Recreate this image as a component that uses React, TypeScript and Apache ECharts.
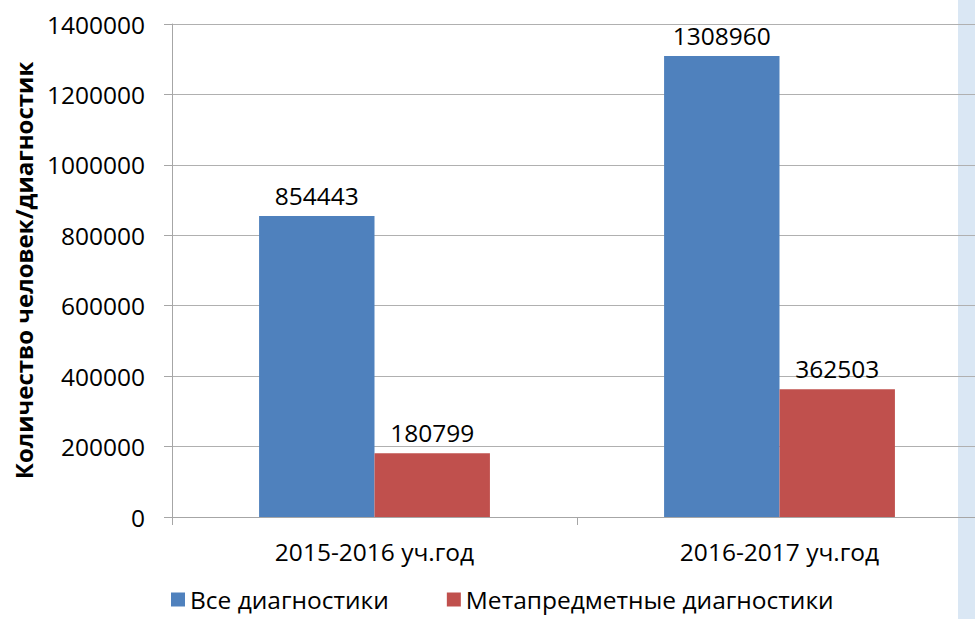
import React, { useEffect, useRef } from "react";
import * as echarts from "echarts";

const categories = ["2015-2016 уч.год", "2016-2017 уч.год"];
const seriesNames = ["Все диагностики", "Метапредметные диагностики"];
const allDiagnostics = [854443, 1308960];
const metaDiagnostics = [180799, 362503];
const yTicks = { min: 0, max: 1400000, interval: 200000 };

const FONT = "Open Sans";
const FS = 24.5;

export default function App() {
  const ref = useRef<HTMLDivElement>(null);
  useEffect(() => {
    if (!ref.current) return;
    const chart = echarts.init(ref.current, undefined, { renderer: "svg" });
    chart.setOption({
      animation: false,
      backgroundColor: "#ffffff",
      textStyle: { fontFamily: FONT },
      graphic: [
        {
          type: "rect",
          z: -10,
          silent: true,
          shape: { x: 958, y: 0, width: 20, height: 619 },
          style: { fill: "#dae7f4" },
        },
      ],
      grid: {
        left: 172,
        width: 810,
        top: 24,
        bottom: 102,
        containLabel: false,
        outerBoundsMode: "none",
      },
      legend: {
        bottom: 2,
        left: 166,
        itemWidth: 14,
        itemHeight: 14,
        itemGap: 58,
        icon: "rect",
        textStyle: { fontSize: FS, color: "#000", fontFamily: FONT },
        data: seriesNames,
      },
      xAxis: {
        type: "category",
        data: categories,
        axisLine: { lineStyle: { color: "#a6a6a6", width: 1 } },
        axisTick: { show: true, length: 8, lineStyle: { color: "#a6a6a6" } },
        axisLabel: { fontSize: FS, color: "#000", margin: 22, fontFamily: FONT },
      },
      yAxis: {
        type: "value",
        min: yTicks.min,
        max: yTicks.max,
        interval: yTicks.interval,
        name: "Количество человек/диагностик",
        nameLocation: "middle",
        nameGap: 137,
        nameTextStyle: { fontSize: 24, fontWeight: "bold", color: "#000", fontFamily: FONT },
        axisLine: { show: true, lineStyle: { color: "#a6a6a6" } },
        axisTick: { show: true, length: 8, lineStyle: { color: "#a6a6a6" } },
        splitLine: { show: true, lineStyle: { color: "#b0b0b0", width: 1 } },
        axisLabel: {
          fontSize: FS,
          color: "#000",
          margin: 27,
          fontFamily: FONT,
          formatter: (v: number) => String(v),
        },
      },
      series: [
        {
          name: seriesNames[0],
          type: "bar",
          data: allDiagnostics,
          barGap: "0%",
          barCategoryGap: "43%",
          itemStyle: { color: "#4f81bd" },
          label: { show: true, position: "top", distance: 8, fontSize: FS, color: "#000", fontFamily: FONT },
        },
        {
          name: seriesNames[1],
          type: "bar",
          data: metaDiagnostics,
          barGap: "0%",
          barCategoryGap: "43%",
          itemStyle: { color: "#c0504d" },
          label: { show: true, position: "top", distance: 8, fontSize: FS, color: "#000", fontFamily: FONT },
        },
      ],
    });
    return () => chart.dispose();
  }, []);
  return (
    <div
      ref={ref}
      style={{ position: "fixed", left: 0, top: 0, width: 975, height: 619, background: "#fff" }}
    />
  );
}
